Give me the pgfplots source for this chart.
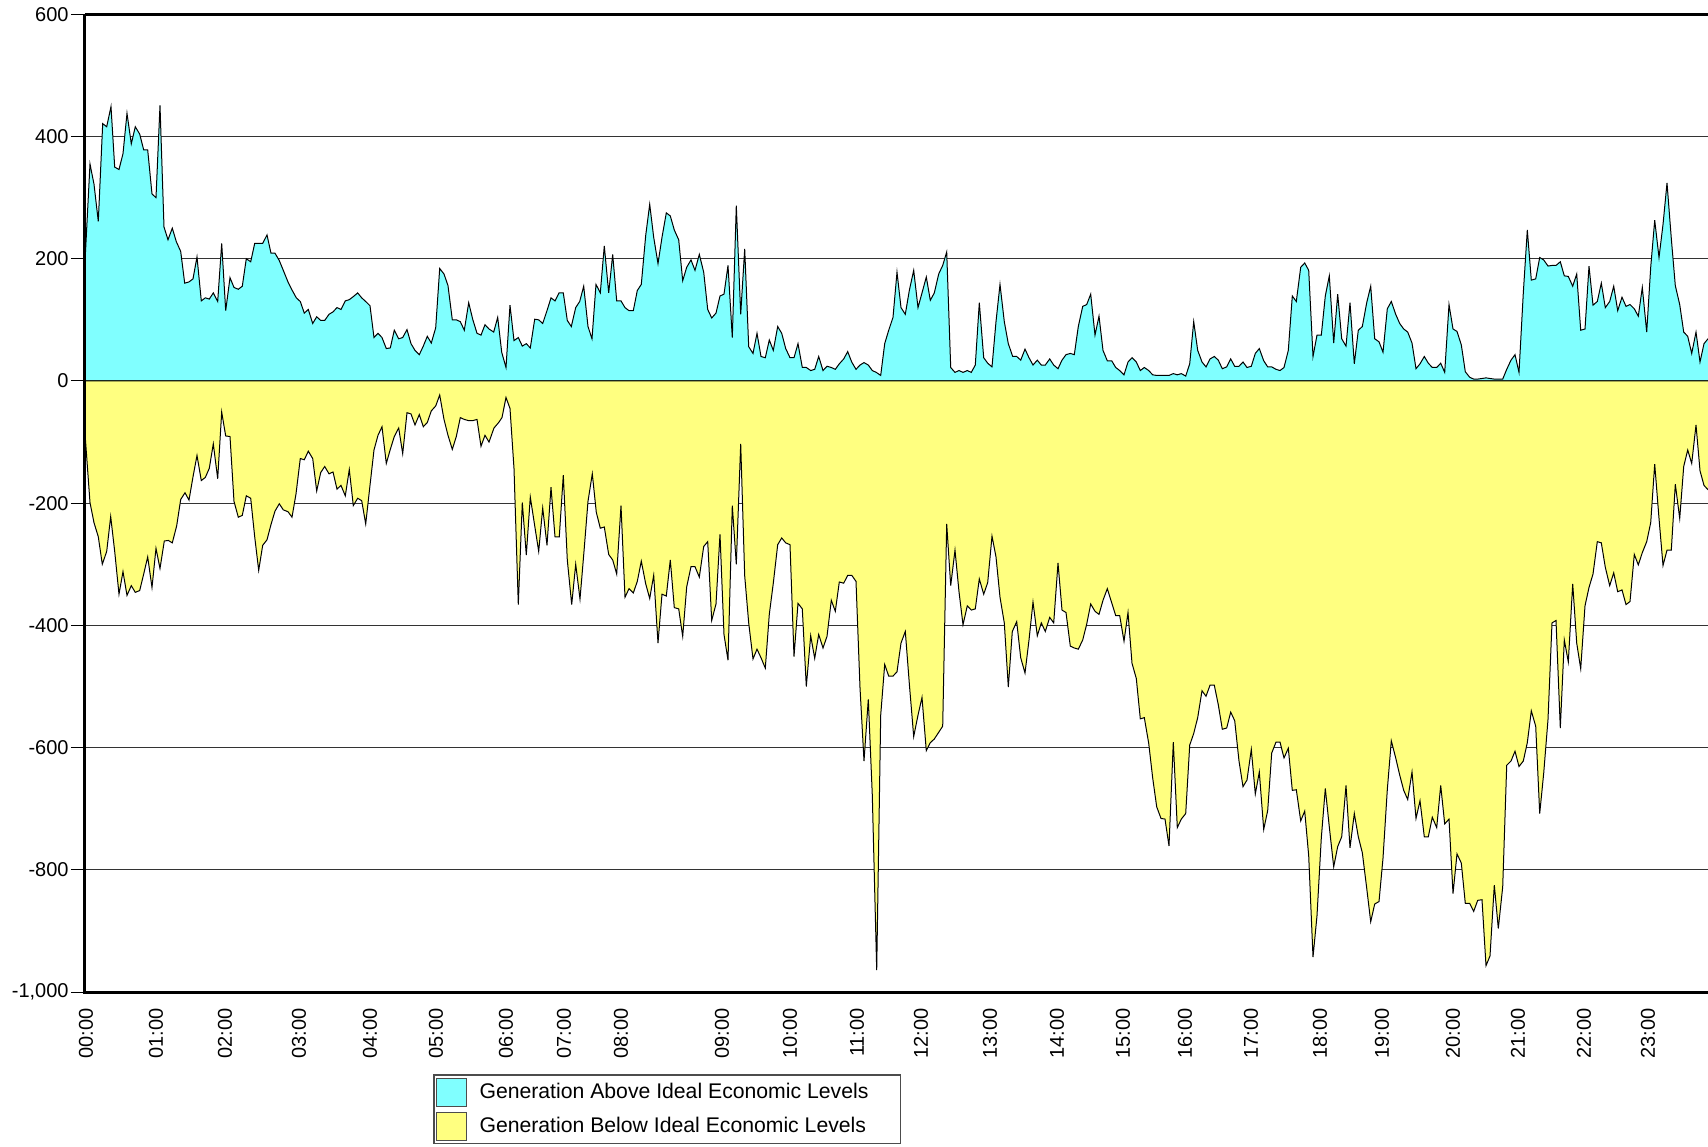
\documentclass[border=0pt]{standalone}
\usepackage{fontspec}
\setmainfont{Liberation Sans}
\usepackage{pgfplots}
\pgfplotsset{compat=1.18}
\definecolor{cyanfill}{RGB}{128,255,255}
\definecolor{yellowfill}{RGB}{255,255,128}
\begin{document}
\begin{tikzpicture}
\begin{axis}[
  name=ax, at={(0pt,0pt)}, anchor=south west,
  scale only axis, width=813.5pt, height=488.85pt,
  xmin=85, xmax=1712, ymin=-1000, ymax=600,
  axis x line*=bottom, axis y line*=left,
  axis line style={draw=none},
  ytick={-1000,-800,-600,-400,-200,0,200,400,600},
  yticklabels={{-1,000},-800,-600,-400,-200,0,200,400,600},
  xtick={86,156,225,299,370,436,506,564,621,722,790,857,921,990,1057,1123,1185,1251,1320,1382,1453,1518,1584,1648},
  xticklabels={00:00,01:00,02:00,03:00,04:00,05:00,06:00,07:00,08:00,09:00,10:00,11:00,12:00,13:00,14:00,15:00,16:00,17:00,18:00,19:00,20:00,21:00,22:00,23:00},
  tick align=outside, major tick length=7pt,
  ytick style={draw=black, line width=0.5pt},
  xtick style={draw=none},
  ymajorgrids, grid style={black!80, line width=0.5pt},
  tick label style={font=\fontsize{10}{12}\selectfont},
  xticklabel style={rotate=90, anchor=east, inner sep=1pt},
  yticklabel style={inner sep=1pt},
  clip mode=individual,
  legend style={at={(axis description cs:0.2141,-0.0842)}, anchor=north west,
    draw=black!70, line width=0.6pt, fill=white, inner xsep=1pt, inner ysep=1.3pt,
    row sep=2.6pt, column sep=4.7pt,
    nodes={inner sep=1.5pt, font=\fontsize{10.6}{12}\selectfont}, cells={anchor=west}},
  legend image code/.code={\draw[#1, draw=black!70, line width=0.6pt] (0pt,-7pt) rectangle (15pt,7pt);},
]
\addplot[fill=cyanfill, draw=black, line width=0.5pt] coordinates {
(85,195)(90,355)(94,322)(98.3,261)(102.7,421)(106.7,416)(111,449)(114.7,350)(119,346)(123,372)(127,438)(131.3,388)(135.3,416)(139.7,404)(143.7,378)(147.7,378)(152,306)(156,300)(160,451)(164,252)(168,231)(172.3,250)(176.3,228)(180.7,212)(184.7,160)(189,162)(193,167)(197,203)(201.3,131)(205.3,136)(209.3,134)(213.3,144)(217.7,130)(221.7,225)(225.7,115)(230,169)(234,153)(238.3,150)(242.3,155)(246.3,200)(250.7,195)(254.7,225)(258.7,225)(262.7,225)(267,239)(271,209)(275,209)(279.3,197)(283.3,181)
(288,162)(292.3,148)(296.3,136)(300.3,130)(304.3,111)(308.3,117)(312.7,94)(316.7,105)(320.7,99)(324.7,99)(329,109)(333,113)(337,120)(341,117)(345.3,131)(349.3,133)(353.3,138)(357.7,144)(361.7,136)(365.7,130)(370,123)(374,71)(378,78)(382,71)(386.3,53)(390.3,54)(394.3,83)(398.7,69)(402.7,71)(407,84)(411,61)(415,50)(419.3,43)(423.3,57)(427.3,73)(431.3,62)(435.7,87)(439.7,184)(444,175)(448,156)(452.3,100)(456.3,100)(460.3,97)(464.3,83)(468.7,128)(472.7,101)(477,78)(481,75)(485,92)(489,85)
(493.7,80)(497.7,104)(501.7,47)(506,22)(510,124)(514,66)(518.3,71)(522.3,57)(526.3,61)(530.3,54)(534.7,101)(538.7,100)(542.7,94)(547,115)(551,136)(555,131)(559,144)(563.3,144)(567.3,99)(571.3,89)(575.7,120)(579.7,130)(583.7,155)(588,89)(592,69)(596,158)(600.3,144)(604.3,221)(608.7,144)(612.7,207)(616.7,131)(621,131)(625,120)(629,115)(633.3,115)(637.3,148)(641.3,158)(645.7,238)(649.7,289)(653.7,235)(658,192)(662,235)(666.3,275)(670.3,270)(674.3,247)(678.7,231)(682.7,164)(686.7,186)(691,198)(695,181)
(699.3,207)(703.7,178)(707.7,117)(711.7,103)(716,111)(720,139)(724,142)(728,189)(732.3,71)(736.3,287)(740.7,109)(744.7,216)(748.7,56)(753,45)(757,78)(761,40)(765.3,38)(769.3,67)(773.3,50)(777.7,89)(781.7,78)(785.7,53)(790,38)(794,38)(798,61)(802.3,22)(806.3,22)(810.7,17)(814.7,19)(818.7,40)(823,17)(827,24)(831.3,22)(835.3,19)(839.3,28)(843.7,36)(847.7,48)(851.7,31)(856,19)(860,26)(864,30)(868.3,26)(872.3,17)(876.3,14)(880.7,9)(884.7,61)(888.7,83)(893,104)(897,178)(901,120)
(905.3,109)(909.3,148)(913.7,181)(918,120)(922,144)(926.3,170)(930.3,132)(934.3,144)(938.7,175)(942.7,189)(946.7,211)(950.7,22)(955,14)(959,17)(963,14)(967.3,17)(971.3,14)(975.3,26)(979.3,128)(983.7,38)(987.7,29)(992,23)(996,97)(1000,158)(1004.3,97)(1008.3,61)(1012.7,40)(1016.7,40)(1020.7,34)(1025,52)(1029,38)(1033,26)(1037.3,34)(1041.3,26)(1045.3,26)(1049.7,36)(1053.7,26)(1058,20)(1062,34)(1066,43)(1070.3,45)(1074.3,43)(1078.3,89)(1082.7,122)(1086.7,125)(1090.7,142)(1095,75)(1099,106)(1103,50)
(1107.3,33)(1111.7,33)(1115.7,22)(1119.7,17)(1124,10)(1128,31)(1132,38)(1136.3,31)(1140.3,17)(1144.3,22)(1148.7,17)(1152.7,10)(1156.7,9)(1161,9)(1165,9)(1169,9)(1173.3,12)(1177.3,10)(1181.3,12)(1185.7,8)(1189.7,28)(1193.7,97)(1197.7,50)(1202,31)(1206,23)(1210,36)(1214.3,40)(1218.3,34)(1222.3,20)(1226.7,23)(1230.7,36)(1234.7,24)(1239,24)(1243,31)(1247,22)(1251.3,24)(1255.3,45)(1259.3,53)(1263.7,33)(1267.7,23)(1271.7,23)(1276,19)(1280,17)(1284,22)(1288.3,50)(1292.3,139)(1296.3,130)(1300.7,186)(1304.7,193)
(1308.7,181)(1313,40)(1317,75)(1321.3,75)(1325.3,139)(1329.3,172)(1333.7,62)(1337.7,142)(1341.7,69)(1346,57)(1350,128)(1354.3,28)(1358.3,83)(1362.3,89)(1366.7,128)(1370.7,155)(1374.7,69)(1379,64)(1383,47)(1387.3,118)(1391.3,130)(1395.7,109)(1399.7,94)(1403.7,85)(1407.7,80)(1412,62)(1416,20)(1420,28)(1424.3,40)(1428.3,29)(1432.3,22)(1436.7,22)(1440.7,29)(1444.7,14)(1449,125)(1453,85)(1457,81)(1461.3,59)(1465.3,15)(1469.7,6)(1473.7,3)(1477.7,3)(1482,4)(1486,5)(1490,4)(1494.3,3)(1498.3,3)
(1502.7,3)(1506.7,19)(1511,34)(1515,43)(1519,14)(1523.3,144)(1527.3,247)(1531.3,165)(1535.7,167)(1539.7,202)(1543.7,198)(1548,188)(1552,189)(1556,189)(1560.3,195)(1564.3,172)(1568.3,171)(1572.7,155)(1576.7,175)(1580.7,83)(1585,85)(1589,188)(1593,124)(1597.3,130)(1601.3,160)(1605.3,120)(1609.7,130)(1613.7,155)(1617.7,115)(1622,137)(1626,122)(1630,125)(1634.3,118)(1638.3,106)(1642.3,153)(1646.7,80)(1650.7,186)(1654.7,263)(1659,202)(1663,256)(1667,324)(1671.3,233)(1675.3,156)(1679.7,125)(1683.7,80)(1687.7,73)(1691.7,45)(1696,80)(1700,31)(1704,61)(1708,69)(1712,69)
} \closedcycle;
\addlegendentry{Generation Above Ideal Economic Levels\kern13.5pt}
\addplot[fill=yellowfill, draw=black, line width=0.5pt] coordinates {
(85,-86)(90,-199)(94,-232)(98.3,-255)(102.3,-300)(106.7,-279)(110.7,-222)(114.7,-279)(119,-349)(123,-312)(127,-351)(131.3,-335)(135.3,-346)(139.7,-343)(143.7,-316)(147.7,-288)(152,-338)(156,-274)(160,-307)(164.3,-262)(168.3,-261)(172.3,-265)(176.7,-237)(180.7,-194)(185,-183)(189,-195)(193,-157)(197,-122)(201.3,-163)(205.3,-158)(209.3,-143)(213.3,-103)(217.7,-160)(221.7,-51)(225.7,-90)(230,-91)(234,-197)(238.3,-223)(242.3,-220)(246.3,-188)(250.7,-192)(254.7,-255)(258.7,-310)(262.7,-269)(267,-260)(271,-235)(275,-213)(279.3,-201)(283.3,-211)
(288,-214)(292,-223)(296,-185)(300.3,-127)(304.3,-129)(308.3,-115)(312.7,-127)(316.7,-180)(320.7,-150)(324.7,-140)(329,-152)(333,-149)(337,-177)(341,-171)(345.3,-188)(349.3,-145)(353.3,-204)(357.7,-192)(361.7,-196)(365.7,-234)(370,-171)(374,-113)(378,-89)(382,-75)(386.3,-135)(390.3,-112)(394.3,-91)(398.7,-77)(402.7,-119)(407,-52)(411,-54)(415,-72)(419.3,-55)(423.3,-75)(427.3,-68)(431.3,-49)(435.7,-41)(439.7,-23)(444,-63)(448,-89)(452.3,-112)(456.3,-91)(460.3,-60)(464.3,-63)(468.7,-65)(472.7,-65)(477,-63)(481,-107)(485,-89)(489,-100)
(494,-77)(498.7,-68)(502,-60)(506,-27)(510,-45)(514,-143)(518.3,-366)(522.3,-199)(526.3,-285)(530.3,-190)(534.7,-237)(538.7,-279)(542.7,-208)(547,-269)(551,-174)(555,-255)(559.3,-255)(563.3,-154)(567.3,-293)(571.7,-366)(575.7,-300)(580,-357)(584,-279)(588,-197)(592.3,-152)(596.3,-215)(600.3,-241)(604.3,-239)(608.7,-284)(612.7,-293)(616.7,-316)(621,-204)(625,-354)(629,-340)(633.3,-347)(637.3,-328)(641.3,-295)(645.7,-332)(649.7,-356)(653.7,-318)(658,-429)(662,-349)(666.3,-352)(670.3,-293)(674.3,-371)(678.7,-373)(682.7,-418)(686.7,-337)(691,-304)(695,-304)
(699.3,-321)(703.7,-271)(707.7,-263)(711.7,-392)(716,-365)(720,-251)(724,-415)(728,-457)(732.3,-204)(736.3,-300)(740.7,-103)(744.7,-319)(748.7,-396)(753,-455)(757,-439)(761,-453)(765.3,-470)(769.3,-382)(773.3,-331)(777.7,-268)(781.7,-257)(785.7,-265)(790,-268)(794,-451)(798,-364)(802.3,-373)(806.3,-500)(810.7,-417)(814.7,-454)(818.7,-415)(823,-437)(827,-418)(831.3,-359)(835.3,-377)(839.3,-329)(843.7,-331)(847.7,-318)(851.7,-318)(856,-328)(860,-502)(864,-622)(868.3,-521)(872.3,-678)(876.7,-964)(880.7,-547)(884.7,-464)(888.7,-483)(893,-483)(897,-476)(901,-429)
(905.3,-410)(909.3,-495)(913.7,-582)(918,-547)(922,-518)(926.3,-605)(930.3,-592)(934.3,-586)(938.7,-575)(942.7,-565)(946.7,-234)(950.7,-335)(955,-277)(959,-345)(963,-399)(967.3,-368)(971.3,-375)(975.3,-373)(979.3,-324)(983.7,-349)(987.7,-330)(992,-254)(996,-288)(1000,-354)(1004.3,-396)(1008.3,-501)(1012.3,-410)(1016.7,-394)(1020.7,-453)(1025,-478)(1029,-424)(1033,-362)(1037.3,-417)(1041.3,-396)(1045.3,-410)(1049.7,-387)(1053.7,-396)(1058,-298)(1062,-375)(1066,-379)(1070.3,-434)(1074.3,-437)(1078.3,-439)(1082.7,-424)(1086.7,-398)(1090.7,-365)(1095,-377)(1099,-382)(1103,-359)
(1107.3,-340)(1111.7,-363)(1115.7,-384)(1119.7,-384)(1124,-426)(1128,-379)(1132,-462)(1136.3,-487)(1140.3,-553)(1144.3,-551)(1148.7,-593)(1152.7,-650)(1156.7,-697)(1161,-716)(1165,-717)(1169,-761)(1173.3,-591)(1177.3,-731)(1181.3,-717)(1185.7,-708)(1189.7,-596)(1193.7,-577)(1197.7,-551)(1202,-507)(1206,-516)(1210,-498)(1214.3,-498)(1218.3,-530)(1222.3,-570)(1226.7,-568)(1230.7,-542)(1234.7,-556)(1239,-622)(1243,-664)(1247,-653)(1251.3,-603)(1255.3,-676)(1259.3,-640)(1263.7,-734)(1267.7,-703)(1271.7,-609)(1276,-591)(1280,-591)(1284,-617)(1288.3,-601)(1292.3,-670)(1296.3,-669)(1300.7,-720)(1304.7,-704)
(1308.7,-777)(1313,-943)(1317,-875)(1321.3,-748)(1325.3,-667)(1329.3,-730)(1333.7,-795)(1337.7,-762)(1341.7,-746)(1346,-662)(1350,-764)(1354.3,-708)(1358.3,-746)(1362.3,-772)(1366.7,-830)(1370.7,-885)(1374.7,-856)(1379,-852)(1383,-781)(1387.3,-669)(1391.3,-589)(1395.7,-617)(1399.7,-645)(1403.7,-670)(1407.7,-685)(1412,-640)(1416,-716)(1420,-687)(1424.3,-746)(1428.3,-746)(1432.3,-714)(1436.7,-731)(1440.7,-662)(1444.7,-725)(1449,-717)(1453,-839)(1457,-774)(1461.3,-789)(1465.3,-855)(1469.7,-855)(1473.7,-868)(1477.7,-850)(1482,-849)(1486,-957)(1490,-941)(1494.3,-825)(1498.3,-896)
(1502.7,-828)(1506.7,-629)(1511,-622)(1515,-606)(1519,-631)(1523.3,-622)(1527.3,-592)(1531.3,-540)(1535.7,-565)(1539.7,-708)(1543.7,-642)(1548,-554)(1552,-396)(1556,-392)(1560.3,-568)(1564.3,-424)(1568.3,-460)(1572.7,-332)(1576.7,-429)(1580.7,-471)(1585,-368)(1589,-338)(1593,-316)(1597.3,-263)(1601.3,-265)(1605.3,-305)(1609.7,-335)(1613.7,-314)(1617.7,-345)(1622,-342)(1626,-366)(1630,-361)(1634.3,-284)(1638.3,-301)(1642.3,-281)(1646.7,-263)(1650.7,-232)(1654.7,-136)(1659,-225)(1663,-302)(1667,-277)(1671.3,-277)(1675.3,-169)(1679.7,-225)(1683.7,-140)(1687.7,-113)(1691.7,-135)(1696,-72)(1700,-147)(1704,-171)(1708,-178)(1712,-178)
} \closedcycle;
\addlegendentry{Generation Below Ideal Economic Levels\kern13.5pt}
\end{axis}
\draw[line width=1.5pt] (ax.north west) -- (ax.south west) -- (ax.south east);
\draw[line width=1.5pt] (ax.north west) -- (ax.north east);
\pgfresetboundingbox
\useasboundingbox (-42.5pt,-77pt) rectangle (811.5pt,496pt);
\end{tikzpicture}
\end{document}
